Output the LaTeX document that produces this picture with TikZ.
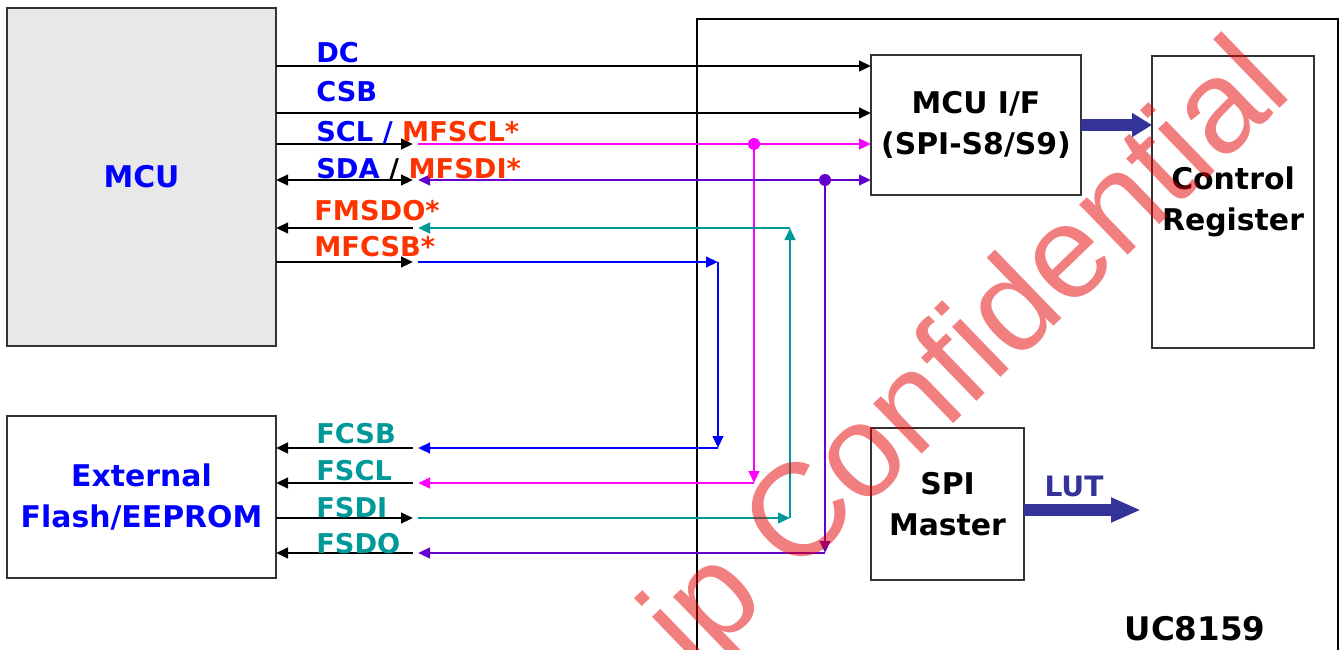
\documentclass[tikz,border=0pt]{standalone}
\usepackage{fontspec}
\setmainfont{DejaVu Sans}
\newfontfamily\wmfont{Liberation Sans}
\usepackage{xcolor}
\definecolor{mcugray}{HTML}{E8E8E8}
\definecolor{boxline}{HTML}{333333}
\definecolor{sigblue}{HTML}{0000FF}
\definecolor{sigred} {HTML}{FF3300}
\definecolor{sigmag} {HTML}{FF00FF}
\definecolor{sigpur} {HTML}{6600CC}
\definecolor{sigteal}{HTML}{009999}
\definecolor{busnavy}{HTML}{333399}
\definecolor{wmred}  {HTML}{E60000}
\usetikzlibrary{arrows.meta,positioning,calc}

\begin{document}
\begin{tikzpicture}[x=0.2mm, y=-0.2mm,
  box/.style={draw=boxline, line width=0.3mm, fill=white, inner sep=0pt, outer sep=0pt, align=center, font=\fontsize{17}{23}\selectfont\bfseries},
  lbl/.style={anchor=base west, inner sep=0pt, font=\fontsize{15.5}{18}\selectfont\bfseries},
  wire/.style={line width=0.5mm},
  ar/.style={-{Triangle[length=2.4mm,width=2.1mm]}},
  ra/.style={{Triangle[length=2.4mm,width=2.1mm]}-},
  rar/.style={{Triangle[length=2.4mm,width=2.1mm]}-{Triangle[length=2.4mm,width=2.1mm]}},
  dot/.style={circle, inner sep=0pt, minimum size=2.4mm},
  bus/.style={draw=busnavy, line width=2.4mm}]
  \useasboundingbox (0,0) rectangle (1343,649);
  % Host side
  \node[box, fill=mcugray, minimum width=53.8mm, minimum height=67.6mm, text=sigblue] (mcu) at (141.5,177) {MCU};
  \node[box, minimum width=53.8mm, minimum height=32.4mm, text=sigblue] (flash) at (141.5,497) {External\\Flash/EEPROM};
  % UC8159
  \draw[black, line width=0.4mm] (697,700) -- (697,19) -- (1338,19) -- (1338,700);
  \node[box, minimum width=42mm, minimum height=28mm] (mcuif) at (976,125) {MCU I/F\\(SPI-S8/S9)};
  \node[box, minimum width=32.4mm, minimum height=58.4mm] (ctrl) at (1233,202) {Control\\Register};
  \node[box, minimum width=30.6mm, minimum height=30.4mm] (spim) at (947.5,504) {SPI\\Master};
  \node[font=\fontsize{18.5}{22}\selectfont\bfseries, anchor=base, inner sep=0pt] (chip) at (1195,640) {UC8159};
  \draw[bus, -{Triangle[length=4mm,width=4.6mm]}] (mcuif.east) -- (mcuif.east -| ctrl.west);
  \coordinate (lutend) at (1141,510);
  \draw[bus, -{Triangle[length=6mm,width=4.6mm]}] (spim.east |- lutend) -- (lutend);
  \node[font=\fontsize{16}{18}\selectfont\bfseries, text=busnavy, anchor=base, inner sep=0pt] (lut) at (1074,496) {LUT};
  % pin rows
  \coordinate (dc)   at (413,66);
  \coordinate (csb)  at (413,113);
  \coordinate (scl)  at (413,144);
  \coordinate (sda)  at (413,180);
  \coordinate (msdo) at (413,228);
  \coordinate (mcsb) at (413,262);
  \coordinate (fcsb) at (413,448);
  \coordinate (fscl) at (413,483);
  \coordinate (fsdi) at (413,518);
  \coordinate (fsdo) at (413,553);
  \coordinate (sclJ) at (754,144);
  \coordinate (sdaJ) at (825,180);
  \coordinate (sdoC) at (790,228);
  \coordinate (csbC) at (718,262);
  % MCU and flash pins
  \draw[wire, ar] (mcu.east |- dc) -- (mcuif.west |- dc);
  \draw[wire, ar] (mcu.east |- csb) -- (mcuif.west |- csb);
  \draw[wire, ar] (mcu.east |- scl) -- (scl);
  \draw[wire, rar] (mcu.east |- sda) -- (sda);
  \draw[wire, ra] (mcu.east |- msdo) -- (msdo);
  \draw[wire, ar] (mcu.east |- mcsb) -- (mcsb);
  \draw[wire, ra] (flash.east |- fcsb) -- (fcsb);
  \draw[wire, ra] (flash.east |- fscl) -- (fscl);
  \draw[wire, ar] (flash.east |- fsdi) -- (fsdi);
  \draw[wire, ra] (flash.east |- fsdo) -- (fsdo);
  % routing
  \draw[wire, sigmag, ar] ([xshift=1mm]scl) -- (mcuif.west |- scl);
  \draw[wire, sigmag, ar] (sclJ) -- (sclJ |- fscl);
  \draw[wire, sigmag, ar] (sclJ |- fscl) -- ([xshift=1mm]fscl);
  \node[dot, fill=sigmag] (sclD) at (sclJ) {};
  \draw[wire, sigpur, rar] ([xshift=1mm]sda) -- (mcuif.west |- sda);
  \draw[wire, sigpur, ar] (sdaJ) -- (sdaJ |- fsdo);
  \draw[wire, sigpur, ar] (sdaJ |- fsdo) -- ([xshift=1mm]fsdo);
  \node[dot, fill=sigpur] (sdaD) at (sdaJ) {};
  \draw[wire, sigteal, ar] ([xshift=1mm]fsdi) -- (sdoC |- fsdi);
  \draw[wire, sigteal, ar] (sdoC |- fsdi) -- (sdoC);
  \draw[wire, sigteal, ar] (sdoC) -- ([xshift=1mm]msdo);
  \draw[wire, sigblue, ar] ([xshift=1mm]mcsb) -- (csbC);
  \draw[wire, sigblue, ar] (csbC) -- (csbC |- fcsb);
  \draw[wire, sigblue, ar] (csbC |- fcsb) -- ([xshift=1mm]fcsb);
  % labels
  \node[lbl, text=sigblue] (dcl) at (316,63) {DC};
  \node[lbl, text=sigblue] (csbl) at (316,101) {CSB};
  \node[lbl] (scll) at (316,141) {\textcolor{sigblue}{SCL /} \textcolor{sigred}{MFSCL*}};
  \node[lbl] (sdal) at (316,178) {\textcolor{sigblue}{SDA} / \textcolor{sigred}{MFSDI*}};
  \node[lbl, text=sigred] (msdol) at (314,220) {FMSDO*};
  \node[lbl, text=sigred] (mcsbl) at (314,256) {MFCSB*};
  \node[lbl, text=sigteal] (fcsbl) at (316,443) {FCSB};
  \node[lbl, text=sigteal] (fscll) at (316,480) {FSCL};
  \node[lbl, text=sigteal] (fsdil) at (316,517) {FSDI};
  \node[lbl, text=sigteal] (fsdol) at (316,553) {FSDO};
  % watermark
  \node[font=\wmfont\fontsize{75}{80}\selectfont, text=wmred, text opacity=0.5, rotate=44, anchor=base west, inner sep=0pt] (wm) at (694,674) {ip Confidential};
\end{tikzpicture}
\end{document}
